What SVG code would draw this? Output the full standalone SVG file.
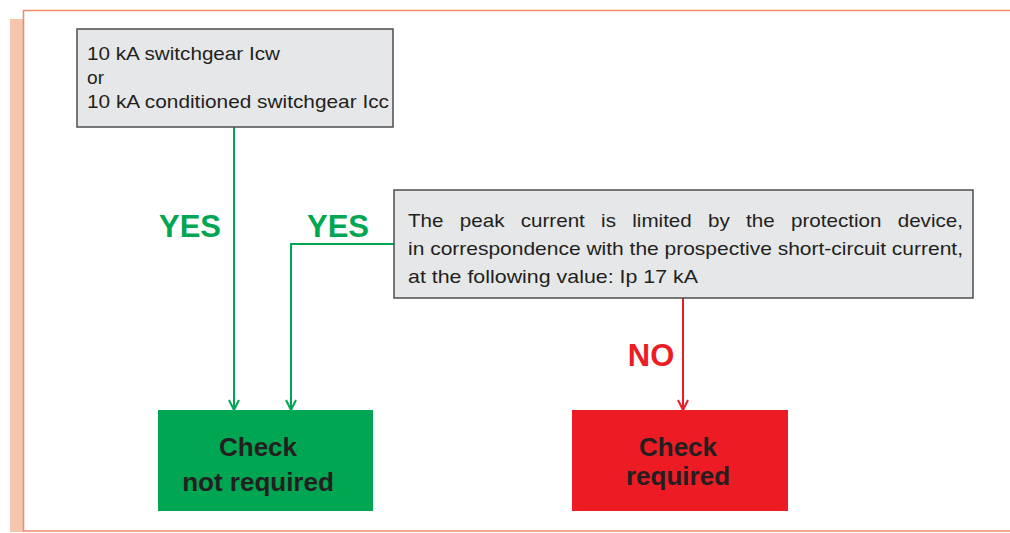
<svg xmlns="http://www.w3.org/2000/svg" width="1010" height="533" viewBox="0 0 1010 533">
<style>
.box{fill:#e6e7e8;stroke:#4d4d4f;stroke-width:1.5}
.t{font-family:"Liberation Sans",Arial,sans-serif;font-size:19px;fill:#231f20}
.lab{font-family:"Liberation Sans",Arial,sans-serif;font-size:31px;font-weight:bold;text-anchor:middle}
.res{font-family:"Liberation Sans",Arial,sans-serif;font-size:26px;font-weight:bold;fill:#231f20;text-anchor:middle}
.g{stroke:#00a651;stroke-width:2;fill:none}
.r{stroke:#ed1c24;stroke-width:2;fill:none}
</style>
<defs>
<marker id="ag" viewBox="0 0 12 12" refX="11" refY="6" markerWidth="12" markerHeight="12" markerUnits="userSpaceOnUse" orient="auto"><path d="M1,1 L11,6 L1,11" fill="none" stroke="#00a651" stroke-width="2"/></marker>
<marker id="ar" viewBox="0 0 12 12" refX="11" refY="6" markerWidth="12" markerHeight="12" markerUnits="userSpaceOnUse" orient="auto"><path d="M1,1 L11,6 L1,11" fill="none" stroke="#ed1c24" stroke-width="2"/></marker>
</defs>
<g id="frame">
<rect x="10" y="19" width="13" height="513" fill="#f5c6ad"/>
<path d="M1010,10.5 H23.5 V531 H1010" fill="none" stroke="#f08c6a" stroke-width="1.5"/>
</g>
<g id="connectors">
<path class="g" d="M234,127 V410" marker-end="url(#ag)"/>
<path class="g" d="M394,244 H291 V410" marker-end="url(#ag)"/>
<path class="r" d="M683,298 V410" marker-end="url(#ar)"/>
<text class="lab" x="190" y="237" fill="#00a651">YES</text>
<text class="lab" x="338" y="237" fill="#00a651">YES</text>
<text class="lab" x="651" y="366" fill="#ed1c24">NO</text>
</g>
<g id="node-switchgear">
<rect class="box" x="77" y="29" width="316" height="98"/>
<text class="t" x="87" y="60" textLength="193" lengthAdjust="spacingAndGlyphs">10 kA switchgear Icw</text>
<text class="t" x="87" y="84" textLength="17" lengthAdjust="spacingAndGlyphs">or</text>
<text class="t" x="87" y="108" textLength="302" lengthAdjust="spacingAndGlyphs">10 kA conditioned switchgear Icc</text>
</g>
<g id="node-peak">
<rect class="box" x="394" y="190" width="579" height="108"/>
<text class="t" x="408" y="227" word-spacing="9.7" textLength="555" lengthAdjust="spacingAndGlyphs">The peak current is limited by the protection device,</text>
<text class="t" x="408" y="255" textLength="555" lengthAdjust="spacingAndGlyphs">in correspondence with the prospective short-circuit current,</text>
<text class="t" x="408" y="283" textLength="290" lengthAdjust="spacingAndGlyphs">at the following value: Ip 17 kA</text>
</g>
<g id="node-not-required">
<rect x="158" y="410" width="215" height="101" fill="#00a651"/>
<text class="res" x="258" y="456">Check</text>
<text class="res" x="258" y="491">not required</text>
</g>
<g id="node-required">
<rect x="572" y="410" width="216" height="101" fill="#ed1c24"/>
<text class="res" x="678" y="456">Check</text>
<text class="res" x="678" y="485">required</text>
</g>
</svg>
